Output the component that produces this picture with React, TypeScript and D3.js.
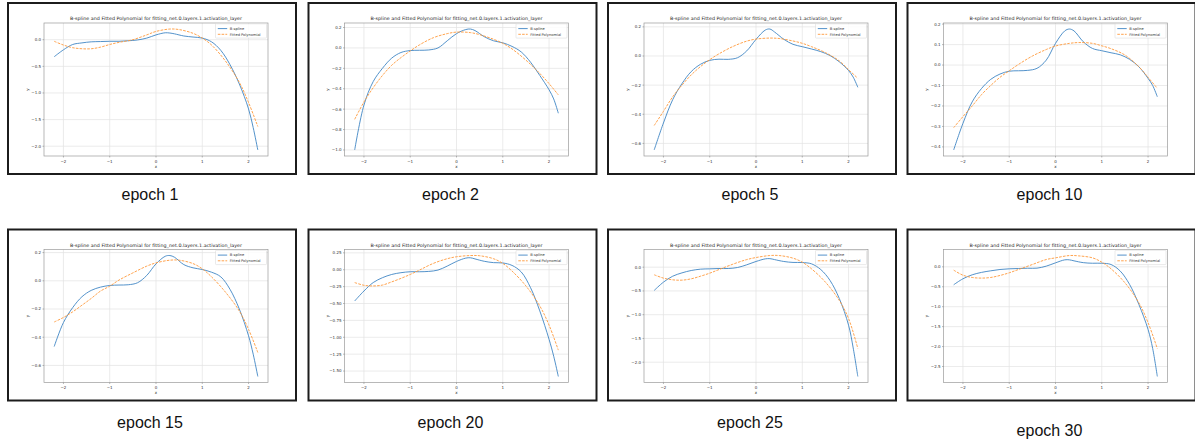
import React, { useEffect, useRef } from 'react';
import * as d3 from 'd3';

// ---- data ----
const chartTitle = 'B-spline and Fitted Polynomial for fitting_net.0.layers.1.activation_layer';
const epochLabels = ['epoch 1', 'epoch 2', 'epoch 5', 'epoch 10', 'epoch 15', 'epoch 20', 'epoch 25', 'epoch 30'];
const legendLabels = ['B-spline', 'Fitted Polynomial'];
const xTicks = [-2, -1, 0, 1, 2];

const splineX = [-2.2, -2, -1.8, -1.6, -1.4, -1.2, -1, -0.8, -0.6, -0.4, -0.2, 0, 0.2, 0.3, 0.4, 0.6, 0.8, 1, 1.2, 1.4, 1.6, 1.8, 2, 2.1, 2.2];
const polyX = [-2.2, -2, -1.8, -1.6, -1.4, -1.2, -1, -0.8, -0.5, -0.2, 0, 0.3, 0.5, 0.8, 1, 1.2, 1.5, 1.8, 2, 2.2];

const spline1 = [-0.32, -0.19, -0.09, -0.06, -0.04, -0.035, -0.03, -0.03, -0.02, -0.005, 0.03, 0.09, 0.13, 0.125, 0.11, 0.07, 0.05, 0.03, -0.04, -0.2, -0.47, -0.83, -1.3, -1.65, -2.07];
const poly1 = [-0.03, -0.1, -0.15, -0.17, -0.17, -0.14, -0.09, -0.05, 0.0, 0.09, 0.155, 0.2, 0.19, 0.12, 0.03, -0.1, -0.4, -0.8, -1.18, -1.63];
const yTicks1 = [0, -0.5, -1, -1.5, -2];

const spline2 = [-1.0, -0.56, -0.33, -0.2, -0.1, -0.045, -0.026, -0.023, -0.02, 0.0, 0.07, 0.14, 0.18, 0.185, 0.17, 0.11, 0.07, 0.05, 0.015, -0.04, -0.14, -0.27, -0.41, -0.5, -0.64];
const poly2 = [-0.7, -0.53, -0.39, -0.27, -0.17, -0.095, -0.03, 0.03, 0.1, 0.14, 0.155, 0.15, 0.13, 0.085, 0.045, -0.01, -0.12, -0.25, -0.35, -0.46];
const yTicks2 = [0.2, 0, -0.2, -0.4, -0.6, -0.8, -1.0];

const spline5 = [-0.645, -0.46, -0.3, -0.19, -0.107, -0.057, -0.03, -0.022, -0.023, -0.012, 0.035, 0.114, 0.178, 0.185, 0.165, 0.115, 0.08, 0.064, 0.048, 0.03, 0.003, -0.04, -0.1, -0.145, -0.215];
const poly5 = [-0.477, -0.38, -0.28, -0.2, -0.13, -0.073, -0.025, 0.015, 0.065, 0.102, 0.116, 0.123, 0.12, 0.103, 0.087, 0.064, 0.023, -0.034, -0.094, -0.153];
const yTicks5 = [0.2, 0, -0.2, -0.4, -0.6];

const spline10 = [-0.415, -0.285, -0.18, -0.115, -0.07, -0.044, -0.03, -0.028, -0.026, -0.016, 0.024, 0.106, 0.167, 0.176, 0.167, 0.114, 0.081, 0.07, 0.06, 0.05, 0.028, -0.008, -0.065, -0.1, -0.155];
const poly10 = [-0.306, -0.252, -0.2, -0.145, -0.1, -0.06, -0.028, 0.003, 0.044, 0.076, 0.093, 0.106, 0.11, 0.106, 0.094, 0.08, 0.049, -0.008, -0.06, -0.114];
const yTicks10 = [0.2, 0.1, 0, -0.1, -0.2, -0.3, -0.4];

const spline15 = [-0.466, -0.296, -0.19, -0.113, -0.068, -0.045, -0.033, -0.03, -0.028, -0.014, 0.038, 0.12, 0.174, 0.179, 0.167, 0.115, 0.092, 0.08, 0.061, 0.028, -0.061, -0.2, -0.39, -0.52, -0.678];
const poly15 = [-0.292, -0.26, -0.22, -0.173, -0.125, -0.073, -0.038, 0.005, 0.056, 0.104, 0.127, 0.146, 0.146, 0.122, 0.085, 0.028, -0.08, -0.214, -0.344, -0.508];
const yTicks15 = [0.2, 0, -0.2, -0.4, -0.6];

const spline20 = [-0.463, -0.315, -0.19, -0.118, -0.07, -0.044, -0.03, -0.03, -0.025, -0.005, 0.054, 0.123, 0.172, 0.177, 0.16, 0.125, 0.105, 0.1, 0.064, -0.034, -0.266, -0.61, -1.03, -1.28, -1.58];
const poly20 = [-0.19, -0.23, -0.24, -0.227, -0.18, -0.128, -0.07, -0.005, 0.094, 0.163, 0.192, 0.21, 0.207, 0.163, 0.094, -0.02, -0.24, -0.537, -0.82, -1.19];
const yTicks20 = [0.25, 0, -0.25, -0.5, -0.75, -1, -1.25, -1.5];

const spline25 = [-0.49, -0.315, -0.19, -0.12, -0.07, -0.042, -0.035, -0.028, -0.028, -0.007, 0.05, 0.12, 0.175, 0.18, 0.16, 0.12, 0.1, 0.098, 0.07, -0.05, -0.28, -0.66, -1.22, -1.7, -2.3];
const poly25 = [-0.16, -0.23, -0.266, -0.273, -0.245, -0.19, -0.126, -0.05, 0.063, 0.16, 0.203, 0.245, 0.245, 0.19, 0.105, -0.035, -0.315, -0.7, -1.08, -1.71];
const yTicks25 = [0, -0.5, -1, -1.5, -2];

const spline30 = [-0.45, -0.3, -0.2, -0.14, -0.1, -0.067, -0.05, -0.042, -0.035, -0.033, 0.017, 0.1, 0.175, 0.175, 0.15, 0.105, 0.09, 0.09, 0.058, -0.108, -0.44, -0.94, -1.57, -2.05, -2.75];
const poly30 = [-0.083, -0.21, -0.267, -0.283, -0.267, -0.217, -0.15, -0.067, 0.058, 0.183, 0.225, 0.283, 0.275, 0.225, 0.117, -0.05, -0.4, -0.9, -1.4, -2.05];
const yTicks30 = [0, -0.5, -1, -1.5, -2, -2.5];

const splines = [spline1, spline2, spline5, spline10, spline15, spline20, spline25, spline30];
const polys = [poly1, poly2, poly5, poly10, poly15, poly20, poly25, poly30];
const yTickSets = [yTicks1, yTicks2, yTicks5, yTicks10, yTicks15, yTicks20, yTicks25, yTicks30];

// layout of the screenshot grid
const panelX = [7, 307.5, 607, 906.5];
const panelY = [2, 228.5];
const panelW = 290, panelH = 173;
const captionY = [200, 428];
const inner = { left: 37, right: 261, top: 21, bottom: 154 };

const BLUE = '#3f86c4';
const ORANGE = '#ff983a';
const FONT = 'DejaVu Sans, sans-serif';

function fmtTick(ticks: number[]) {
  var dec = 1;
  ticks.forEach(t => {
    const s = String(t).split('.')[1] || '';
    dec = Math.max(dec, s.length);
  });
  return (v: number) => v.toFixed(dec).replace('-', '\u2212');
}

function App() {
  const ref = useRef<SVGSVGElement>(null);

  useEffect(() => {
    drawAll();
  });

  function drawAll() {
    const svg = d3.select(ref.current);
    svg.selectAll('*').remove();

    svg.append('rect').attr('width', 1195).attr('height', 445).attr('fill', 'white');

    epochLabels.forEach((label, i) => {
      const col = i % 4, row = Math.floor(i / 4);
      const g = svg.append('g').attr('transform', `translate(${panelX[col]},${panelY[row]})`);

      // screenshot frame
      g.append('rect')
        .attr('x', 1).attr('y', 1)
        .attr('width', panelW - 2).attr('height', panelH - 2)
        .attr('fill', 'white')
        .attr('stroke', '#1c1c1c')
        .attr('stroke-width', 2);

      const spl = splines[i], pol = polys[i], yTicks = yTickSets[i];
      const allY = spl.concat(pol);
      const [ymin, ymax] = d3.extent(allY) as [number, number];
      const pad = (ymax - ymin) * 0.05;

      const xScale = d3.scaleLinear().domain([-2.42, 2.42]).range([inner.left, inner.right]);
      const yScale = d3.scaleLinear().domain([ymin - pad, ymax + pad]).range([inner.bottom, inner.top]);
      const fmt = fmtTick(yTicks);

      // grid
      g.append('g').selectAll('line').data(xTicks).enter().append('line')
        .attr('x1', d => xScale(d)).attr('x2', d => xScale(d))
        .attr('y1', inner.top).attr('y2', inner.bottom)
        .attr('stroke', '#e2e2e2').attr('stroke-width', 0.7);
      g.append('g').selectAll('line').data(yTicks).enter().append('line')
        .attr('x1', inner.left).attr('x2', inner.right)
        .attr('y1', d => yScale(d)).attr('y2', d => yScale(d))
        .attr('stroke', '#e2e2e2').attr('stroke-width', 0.7);

      // lines
      const line = d3.line<[number, number]>()
        .x(d => xScale(d[0]))
        .y(d => yScale(d[1]))
        .curve(d3.curveCatmullRom);

      g.append('path')
        .datum(splineX.map((x, k) => [x, spl[k]] as [number, number]))
        .attr('d', line)
        .attr('fill', 'none')
        .attr('stroke', BLUE)
        .attr('stroke-width', 0.9);

      g.append('path')
        .datum(polyX.map((x, k) => [x, pol[k]] as [number, number]))
        .attr('d', line)
        .attr('fill', 'none')
        .attr('stroke', ORANGE)
        .attr('stroke-width', 0.9)
        .attr('stroke-dasharray', '2.6,1.2');

      // spines
      g.append('rect')
        .attr('x', inner.left).attr('y', inner.top)
        .attr('width', inner.right - inner.left).attr('height', inner.bottom - inner.top)
        .attr('fill', 'none').attr('stroke', '#9a9a9a').attr('stroke-width', 0.7);

      // x ticks
      const xt = g.append('g').selectAll('g').data(xTicks).enter().append('g');
      xt.append('line')
        .attr('x1', d => xScale(d)).attr('x2', d => xScale(d))
        .attr('y1', inner.bottom).attr('y2', inner.bottom + 1.5)
        .attr('stroke', '#777').attr('stroke-width', 0.5);
      xt.append('text')
        .attr('x', d => xScale(d)).attr('y', inner.bottom + 6.5)
        .attr('text-anchor', 'middle')
        .style('font-family', FONT).style('font-size', '4px').attr('fill', '#333')
        .text(d => String(d).replace('-', '\u2212'));

      // y ticks
      const yt = g.append('g').selectAll('g').data(yTicks).enter().append('g');
      yt.append('line')
        .attr('x1', inner.left - 1.5).attr('x2', inner.left)
        .attr('y1', d => yScale(d)).attr('y2', d => yScale(d))
        .attr('stroke', '#777').attr('stroke-width', 0.5);
      yt.append('text')
        .attr('x', inner.left - 3).attr('y', d => yScale(d) + 1.4)
        .attr('text-anchor', 'end')
        .style('font-family', FONT).style('font-size', '4px').attr('fill', '#333')
        .text(d => fmt(d));

      // axis labels
      g.append('text')
        .attr('x', (inner.left + inner.right) / 2).attr('y', inner.bottom + 11.5)
        .attr('text-anchor', 'middle')
        .style('font-family', FONT).style('font-size', '4px').attr('fill', '#333')
        .text('x');
      g.append('text')
        .attr('transform', `translate(${inner.left - 15.5},${(inner.top + inner.bottom) / 2}) rotate(-90)`)
        .attr('text-anchor', 'middle')
        .style('font-family', FONT).style('font-size', '4px').attr('fill', '#333')
        .text('y');

      // title
      g.append('text')
        .attr('x', (inner.left + inner.right) / 2).attr('y', inner.top - 3)
        .attr('text-anchor', 'middle')
        .attr('textLength', 172).attr('lengthAdjust', 'spacingAndGlyphs')
        .style('font-family', FONT).style('font-size', '4.6px').attr('fill', '#222')
        .text(chartTitle);

      // legend
      const lx = inner.right - 52.5, ly = inner.top + 0.8;
      g.append('rect')
        .attr('x', lx).attr('y', ly).attr('width', 51).attr('height', 14.3)
        .attr('rx', 0.8)
        .attr('fill', 'white').attr('fill-opacity', 0.85)
        .attr('stroke', '#d4d4d4').attr('stroke-width', 0.5);
      legendLabels.forEach((name, k) => {
        const yy = ly + 4.8 + k * 5.7;
        g.append('line')
          .attr('x1', lx + 2.3).attr('x2', lx + 11.7)
          .attr('y1', yy).attr('y2', yy)
          .attr('stroke', k === 0 ? BLUE : ORANGE)
          .attr('stroke-width', 0.9)
          .attr('stroke-dasharray', k === 0 ? null : '2.6,1.2');
        g.append('text')
          .attr('x', lx + 14.3).attr('y', yy + 1.3)
          .style('font-family', FONT).style('font-size', '3.6px').attr('fill', '#333')
          .text(name);
      });

      // caption under the screenshot
      svg.append('text')
        .attr('x', panelX[col] + 143)
        .attr('y', i === 7 ? 436 : captionY[row])
        .attr('text-anchor', 'middle')
        .style('font-family', 'Liberation Sans, Arial, sans-serif')
        .style('font-size', '16px')
        .attr('fill', '#111')
        .text(label);
    });
  }

  return (
    <svg
      ref={ref}
      width={1195}
      height={445}
      style={{ position: 'absolute', left: 0, top: 0, display: 'block' }}
    />
  );
}

export default App;
